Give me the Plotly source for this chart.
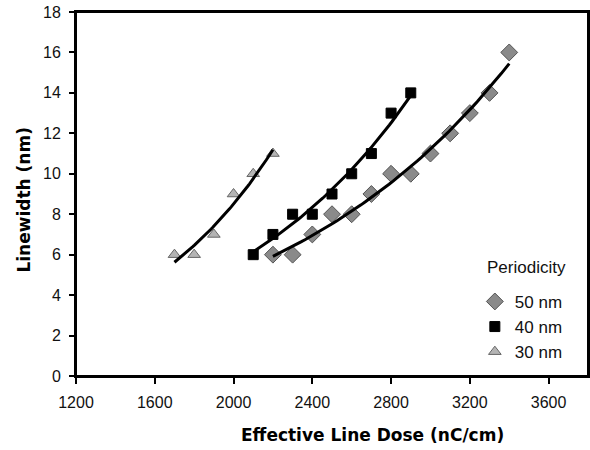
import numpy as np
import plotly.graph_objects as go

# Data
dose_50 = [2200, 2300, 2400, 2500, 2600, 2700, 2800, 2900, 3000, 3100, 3200, 3300, 3400]
width_50 = [6, 6, 7, 8, 8, 9, 10, 10, 11, 12, 13, 14, 16]

dose_40 = [2100, 2200, 2300, 2400, 2500, 2600, 2700, 2800, 2900]
width_40 = [6, 7, 8, 8, 9, 10, 11, 13, 14]

dose_30 = [1700, 1800, 1900, 2000, 2100, 2200]
width_30 = [6, 6, 7, 9, 10, 11]

series_names = ["50 nm", "40 nm", "30 nm"]
legend_title = "Periodicity"
x_ticks = [1200, 1600, 2000, 2400, 2800, 3200, 3600]
y_ticks = [0, 2, 4, 6, 8, 10, 12, 14, 16, 18]

fig = go.Figure()

fig.add_trace(go.Scatter(
    x=dose_50, y=width_50, mode="markers", name=series_names[0],
    marker=dict(symbol="diamond", size=13, color="#8a8a8a",
                line=dict(color="#555555", width=1))))
fig.add_trace(go.Scatter(
    x=dose_40, y=width_40, mode="markers", name=series_names[1],
    marker=dict(symbol="square", size=10, color="#000000",
                line=dict(color="#000000", width=1))))
fig.add_trace(go.Scatter(
    x=dose_30, y=width_30, mode="markers", name=series_names[2],
    marker=dict(symbol="triangle-up", size=11, color="#b4b4b4",
                line=dict(color="#666666", width=1))))

# Exponential trendlines fitted to each series (least squares on ln y)
for xs, ys in [(dose_50, width_50), (dose_40, width_40), (dose_30, width_30)]:
    b, lna = np.polyfit(xs, np.log(ys), 1)
    xf = np.linspace(min(xs), max(xs), 60)
    fig.add_trace(go.Scatter(
        x=xf, y=np.exp(lna + b * xf), mode="lines", showlegend=False,
        hoverinfo="skip", line=dict(color="#000000", width=3)))

font_main = "Arial, Liberation Sans, sans-serif"
font_title = "DejaVu Sans, sans-serif"

fig.update_layout(
    width=590, height=450,
    margin=dict(l=76, r=2, t=12, b=74, autoexpand=False),
    paper_bgcolor="white", plot_bgcolor="white",
    font=dict(family=font_main, size=16, color="#111111"),
    showlegend=True,
    legend=dict(
        x=0.779, y=0.253, xanchor="left", yanchor="top",
        bgcolor="rgba(0,0,0,0)", font=dict(size=17, family=font_main),
        itemwidth=30, tracegroupgap=0),
    xaxis=dict(
        range=[1200, 3800], tickvals=x_ticks, ticktext=[str(v) for v in x_ticks],
        showgrid=False, zeroline=False, automargin=False,
        showline=True, linecolor="#000000", linewidth=2, mirror=True,
        ticks="outside", ticklen=6, tickwidth=2, tickcolor="#000000",
        ticklabeloverflow="allow", ticklabelstandoff=5,
        tickfont=dict(size=16, family=font_main, color="#111111")),
    yaxis=dict(
        range=[0, 18], tickvals=y_ticks, ticktext=[str(v) for v in y_ticks],
        showgrid=False, zeroline=False, automargin=False,
        showline=True, linecolor="#000000", linewidth=2, mirror=True,
        ticks="outside", ticklen=5, tickwidth=2, tickcolor="#000000",
        ticklabeloverflow="allow", ticklabelstandoff=5,
        tickfont=dict(size=16, family=font_main, color="#111111")),
    shapes=[
        dict(type="rect", xref="paper", yref="paper", x0=0, x1=1, y0=0, y1=1,
             line=dict(color="#000000", width=2), fillcolor="rgba(0,0,0,0)",
             layer="above"),
    ],
    annotations=[
        dict(text="<b>Effective Line Dose (nC/cm)</b>", xref="paper", yref="paper",
             x=0.58, y=-0.162, xanchor="center", yanchor="middle", showarrow=False,
             font=dict(family=font_title, size=17, color="#000000")),
        dict(text="<b>Linewidth (nm)</b>", xref="paper", yref="paper",
             x=-0.102, y=0.484, xanchor="center", yanchor="middle", showarrow=False,
             textangle=-90, font=dict(family=font_title, size=17, color="#000000")),
        dict(text=legend_title, xref="paper", yref="paper",
             x=0.799, y=0.297, xanchor="left", yanchor="middle", showarrow=False,
             font=dict(family=font_main, size=17, color="#111111")),
    ],
)

# Remove the default 8px page margin so the 590x450 figure fills the window
fig.write_html("out.html", config={"displayModeBar": False},
               post_script="document.body.style.margin='0';document.body.style.overflow='hidden';")
